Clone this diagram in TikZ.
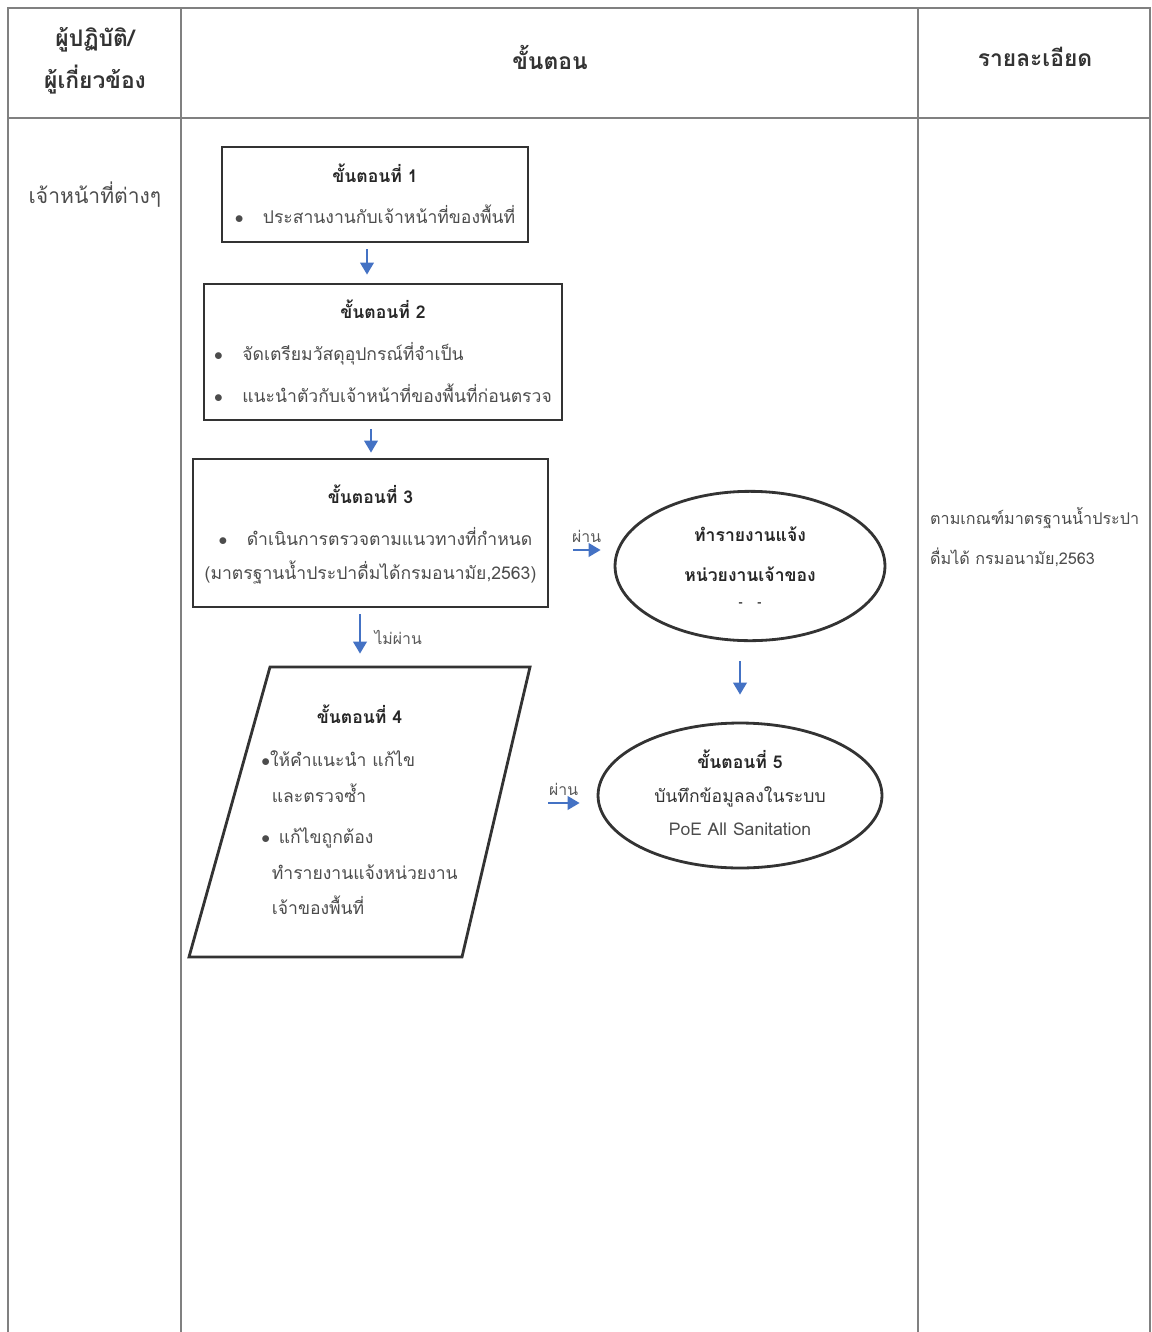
\documentclass[tikz,border=0pt]{standalone}
\usepackage{fontspec}
\setmainfont{Loma}[Script=Thai]
\usepackage{tikz}
\usetikzlibrary{arrows.meta, positioning, shapes.geometric}
\definecolor{flowblue}{HTML}{4472C4}
\newcommand{\itm}{\makebox[1.6em][l]{$\bullet$}}
\newcommand{\steptitle}[1]{\multicolumn{1}{c}{\textcolor{black!85}{\bfseries #1}}}

\begin{document}
\begin{tikzpicture}[x=0.02cm,y=-0.02cm,>={Triangle[length=2.4mm,width=2.7mm]},
        grid line/.style={draw=black!50,line width=1.2pt},
        head/.style={font=\fontsize{13}{24}\selectfont\bfseries,text=black!80,align=center},
        body/.style={font=\fontsize{10}{22.7}\selectfont,text=black!70},
        stepbox/.style={draw=black!80,line width=1.6pt,inner sep=0pt,font=\fontsize{10}{24}\selectfont,text=black!70},
        stepoval/.style={stepbox,ellipse},
        steppara/.style={stepbox,draw=none},
        outline/.style={draw=black!80,line width=1.6pt,line join=miter},
        flow/.style={->,draw=flowblue,line width=1.3pt},
        tag/.style={font=\fontsize{9}{11}\selectfont,text=black!65}]

  \useasboundingbox (0,0) rectangle (1152,1332);

  \draw[grid line] (8,1332) -- (8,8) -- (1150,8) -- (1150,1332);
  \draw[grid line] (8,118) -- (1150,118);
  \draw[grid line] (181,8) -- (181,1332);
  \draw[grid line] (918,8) -- (918,1332);

  \node[head] (colwho)    at (95,61)   {ผู้ปฏิบัติ/\\ผู้เกี่ยวข้อง};
  \node[head] (colstep)   at (550,57)  {ขั้นตอน};
  \node[head] (coldetail) at (1035,57) {รายละเอียด};

  \node[body,font=\fontsize{12}{20}\selectfont] (who) at (95,195) {เจ้าหน้าที่ต่างๆ};

  \node[stepbox,minimum width=6.12cm,minimum height=1.9cm] (step1) at (375,194.5)
    {\begin{tabular}{@{}l@{}}\steptitle{ขั้นตอนที่ 1}\\[-1pt] \itm ประสานงานกับเจ้าหน้าที่ของพื้นที่\end{tabular}};
  \node[stepbox,minimum width=7.16cm,minimum height=2.72cm] (step2) at (383,352)
    {\begin{tabular}{@{}l@{}}\steptitle{ขั้นตอนที่ 2}\\ \itm จัดเตรียมวัสดุอุปกรณ์ที่จำเป็น\\ \itm แนะนำตัวกับเจ้าหน้าที่ของพื้นที่ก่อนตรวจ\end{tabular}};
  \node[stepbox,minimum width=7.1cm,minimum height=2.96cm] (step3) at (370.5,533)
    {\begin{tabular}{@{}l@{}}\steptitle{ขั้นตอนที่ 3}\\ \hspace{0.8em}\itm ดำเนินการตรวจตามแนวทางที่กำหนด\\[-5pt] (มาตรฐานน้ำประปาดื่มได้กรมอนามัย,2563)\end{tabular}};
  \node[steppara,minimum width=5.3cm,minimum height=5.8cm,font=\fontsize{10}{20.4}\selectfont] (step4) at (359.5,812)
    {\begin{tabular}{@{}l@{}}\steptitle{ขั้นตอนที่ 4}\\[4pt] $\bullet$ให้คำแนะนำ แก้ไข\\ \hspace{0.6em}และตรวจซ้ำ\\[3pt] $\bullet$\hspace{0.5em}แก้ไขถูกต้อง\\ \hspace{0.6em}ทำรายงานแจ้งหน่วยงาน\\ \hspace{0.6em}เจ้าของพื้นที่\end{tabular}};
  \draw[outline] ([shift={(-89.5,-145)}]step4.center) -- ([shift={(170.5,-145)}]step4.center)
              -- ([shift={(102.5,145)}]step4.center) -- ([shift={(-170.5,145)}]step4.center) -- cycle;

  \node[stepoval,minimum width=5.4cm,minimum height=2.92cm,font=\fontsize{10}{22.7}\selectfont\bfseries,text=black!85] (notify) at (750,566)
    {\begin{tabular}{@{}c@{}}ทำรายงานแจ้ง\\ \bfseries หน่วยงานเจ้าของ\\[-8pt] {\scriptsize -\hspace{1.2em}-}\end{tabular}};
  \node[stepoval,minimum width=5.68cm,minimum height=2.9cm,font=\fontsize{10}{19}\selectfont] (step5) at (740,795.5)
    {\begin{tabular}{@{}c@{}}\textcolor{black!85}{\bfseries ขั้นตอนที่ 5}\\ \textcolor{black!80}{บันทึกข้อมูลลงในระบบ}\\ PoE All Sanitation\end{tabular}};

  \node[body,anchor=west,align=left,font=\fontsize{9.2}{22.7}\selectfont] (detail) at (924,537)
    {ตามเกณฑ์มาตรฐานน้ำประปา\\ดื่มได้ กรมอนามัย,2563};

  \draw[flow,shorten <=1.2mm,shorten >=1.6mm] (step1.south -| 367,0) -- (step2.north -| 367,0);
  \draw[flow,shorten <=1.6mm,shorten >=1mm] (step2.south -| 371,0) -- (step3.north -| 371,0);
  \draw[flow,shorten <=1.2mm,shorten >=2.4mm] (step3.south -| 360,0) -- node[tag,right,xshift=1.5mm] {ไม่ผ่าน} (step4.north -| 360,0);
  \draw[flow,shorten <=4.8mm,shorten >=2.6mm] (step3.east |- 0,550) -- node[tag,above,pos=0.58] {ผ่าน} (notify.west |- 0,550);
  \draw[flow,shorten <=3.8mm,shorten >=5.4mm] (notify.south -| 740,0) -- (step5.north -| 740,0);
  \draw[flow,shorten <=11mm,shorten >=3.4mm] (step4.east |- 0,803) -- node[tag,above,pos=0.68] {ผ่าน} (step5.west |- 0,803);
\end{tikzpicture}
\end{document}
